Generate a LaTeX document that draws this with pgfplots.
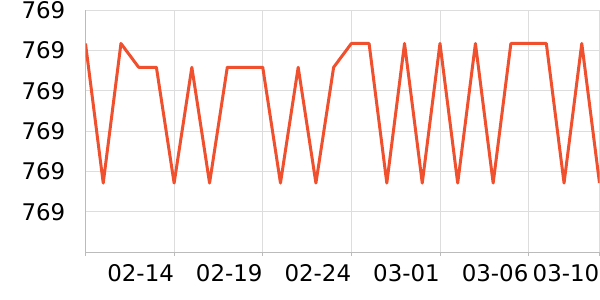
\documentclass[border=0pt]{standalone}
\usepackage{pgfplots}
\pgfplotsset{compat=1.18}
\usepackage{fontspec}
\setmainfont{DejaVu Sans}
\definecolor{linec}{HTML}{F0502E}
\definecolor{gridc}{HTML}{DDDDDD}
\definecolor{axc}{HTML}{BBBBBB}
\begin{document}
\begin{tikzpicture}
\path[use as bounding box] (0bp,0bp) rectangle (600bp,300bp);
\begin{axis}[
  at={(85.5bp,48bp)}, anchor=south west,
  scale only axis, width=514bp, height=242bp,
  xmin=0, xmax=29, ymin=769.0, ymax=769.6,
  axis x line*=bottom, axis y line*=left,
  axis line style={axc, line width=0.8bp},
  xtick={0,5,10,15,20,25,29},
  xticklabels={,02-14,02-19,02-24,03-01,03-06,03-10},
  ytick={769.1,769.2,769.3,769.4,769.5,769.6},
  yticklabels={769,769,769,769,769,769},
  grid=major, major grid style={gridc, line width=0.8bp},
  tick align=outside, major tick length=4bp,
  xtick style={axc, line width=0.8bp},
  ytick style={draw=none},
  tick label style={font=\fontsize{23}{27}\selectfont, text=black},
  x tick label style={anchor=north east, inner sep=0pt, yshift=-8bp, xshift=0bp},
  y tick label style={anchor=east, inner sep=0pt, xshift=-16bp},
]
\addplot[linec, line width=3bp, mark=none, line join=round] table {
x y
0 769.517
1 769.171
2 769.517
3 769.458
4 769.458
5 769.171
6 769.458
7 769.171
8 769.458
9 769.458
10 769.458
11 769.171
12 769.458
13 769.171
14 769.458
15 769.517
16 769.517
17 769.171
18 769.517
19 769.171
20 769.517
21 769.171
22 769.517
23 769.171
24 769.517
25 769.517
26 769.517
27 769.171
28 769.517
29 769.171
};
\end{axis}
\end{tikzpicture}
\end{document}
